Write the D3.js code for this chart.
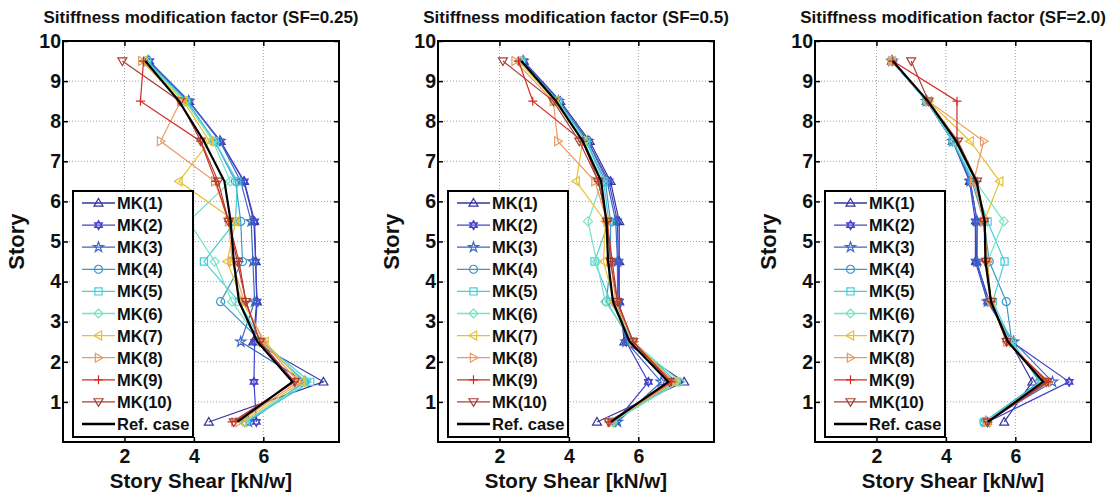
<!DOCTYPE html>
<html>
<head>
<meta charset="utf-8">
<script src="https://cdn.jsdelivr.net/npm/d3@7"></script>
<style>
  body { margin: 0; background: #fff; }
  svg { font-family: "Liberation Sans", Arial, sans-serif; }
</style>
</head>
<body>
<script>
(function () {
  'use strict';

  // story levels (mid-height of each story)
  const stories = [0.5, 1.5, 2.5, 3.5, 4.5, 5.5, 6.5, 7.5, 8.5, 9.5];
  const seriesNames = ["MK(1)", "MK(2)", "MK(3)", "MK(4)", "MK(5)", "MK(6)", "MK(7)", "MK(8)", "MK(9)", "MK(10)"];
  const titles = [
    "Sitiffness modification factor (SF=0.25)",
    "Sitiffness modification factor (SF=0.5)",
    "Sitiffness modification factor (SF=2.0)"
  ];
  const xTicks = [2, 4, 6];
  const yTicks = [1, 2, 3, 4, 5, 6, 7, 8, 9, 10];

  // SF = 0.25
  const ref025 = [5.25, 6.84, 5.83, 5.3, 5.15, 5.06, 4.88, 4.29, 3.57, 2.6];
  const mk025 = [
    [4.43, 7.73, 5.71, 5.81, 5.78, 5.73, 5.44, 4.77, 3.86, 2.7],
    [5.8, 5.73, 5.75, 5.82, 5.78, 5.75, 5.45, 4.75, 3.85, 2.72],
    [5.57, 7.2, 5.35, 5.75, 5.7, 5.65, 5.35, 4.75, 3.85, 2.68],
    [5.5, 7.2, 5.95, 4.77, 5.4, 5.35, 5.2, 4.6, 3.8, 2.65],
    [5.5, 7.35, 5.95, 5.3, 4.29, 5.2, 5.25, 4.6, 3.78, 2.65],
    [5.45, 7.25, 5.9, 5.1, 4.6, 3.85, 5.05, 4.55, 3.75, 2.6],
    [5.4, 7.1, 6.05, 5.4, 4.96, 5.2, 3.57, 4.45, 3.7, 2.55],
    [5.3, 7.0, 6.0, 5.45, 5.1, 5.0, 4.6, 3.04, 3.62, 2.5],
    [5.1, 6.9, 5.9, 5.5, 5.3, 5.0, 4.63, 4.19, 2.46, 2.55],
    [5.15, 6.9, 5.9, 5.5, 5.25, 5.0, 4.7, 4.2, 3.6, 1.94]
  ];

  // SF = 0.5
  const ref05 = [5.22, 6.86, 5.75, 5.27, 5.13, 5.08, 4.93, 4.4, 3.63, 2.63];
  const mk05 = [
    [4.81, 7.32, 5.6, 5.45, 5.45, 5.45, 5.2, 4.6, 3.75, 2.7],
    [5.35, 6.29, 5.65, 5.45, 5.42, 5.4, 5.15, 4.55, 3.7, 2.68],
    [5.4, 6.66, 5.65, 5.4, 5.4, 5.35, 5.1, 4.55, 3.7, 2.68],
    [5.3, 7.0, 5.8, 5.08, 5.2, 5.2, 5.05, 4.5, 3.7, 2.65],
    [5.25, 7.1, 5.85, 5.2, 4.74, 5.15, 5.0, 4.5, 3.68, 2.62],
    [5.25, 7.2, 5.85, 5.05, 4.8, 4.55, 4.95, 4.45, 3.65, 2.6],
    [5.2, 7.05, 5.85, 5.3, 5.0, 5.05, 4.21, 4.4, 3.6, 2.55],
    [5.2, 7.0, 5.85, 5.35, 5.2, 5.1, 4.75, 3.68, 3.55, 2.45],
    [5.15, 6.95, 5.85, 5.4, 5.25, 5.1, 4.85, 4.4, 2.96, 2.55],
    [5.15, 6.9, 5.85, 5.4, 5.2, 5.1, 4.85, 4.3, 3.55, 2.1]
  ];

  // SF = 2.0
  const ref20 = [5.21, 6.8, 5.79, 5.3, 5.14, 5.12, 4.88, 4.3, 3.48, 2.47];
  const mk20 = [
    [5.68, 6.49, 5.85, 5.25, 4.88, 4.9, 4.7, 4.2, 3.45, 2.45],
    [5.2, 7.55, 5.9, 5.2, 4.85, 4.85, 4.68, 4.2, 3.45, 2.45],
    [5.15, 7.07, 5.95, 5.2, 4.9, 4.9, 4.7, 4.2, 3.45, 2.45],
    [5.1, 6.7, 5.9, 5.74, 5.25, 5.1, 4.75, 4.2, 3.45, 2.45],
    [5.1, 6.75, 5.9, 5.35, 5.69, 5.2, 4.8, 4.2, 3.45, 2.45],
    [5.15, 6.8, 5.85, 5.3, 5.2, 5.67, 4.85, 4.25, 3.45, 2.45],
    [5.2, 6.9, 5.8, 5.3, 5.15, 5.1, 5.55, 4.7, 3.5, 2.45],
    [5.2, 6.95, 5.75, 5.3, 5.2, 5.1, 4.8, 5.09, 3.5, 2.45],
    [5.2, 6.95, 5.75, 5.3, 5.15, 5.1, 4.9, 4.32, 4.32, 2.47],
    [5.2, 6.9, 5.75, 5.3, 5.15, 5.1, 4.9, 4.35, 3.5, 3.0]
  ];

  const panels = [
    {title: titles[0], ref: ref025, mk: mk025, left: 63},
    {title: titles[1], ref: ref05, mk: mk05, left: 438},
    {title: titles[2], ref: ref20, mk: mk20, left: 815}
  ];

  const colors = ["#34349e", "#4242cc", "#3a68c4", "#3e98c8", "#45cedc", "#78e2c4",
                  "#e6c232", "#ea9a62", "#d22c24", "#ab3f34"];
  const markers = ["triUp", "hex", "star", "circle", "square", "diamond", "triLeft", "triRight", "plus", "triDown"];

  const W = 1115, H = 494;
  const top = 41, plotW = 276, plotH = 401;

  const svg = d3.select("body").append("svg")
    .attr("width", W).attr("height", H);

  function markerPath(type, r) {
    const t = 0.7;
    switch (type) {
      case "triUp": return `M0,${-r}L${r},${r * t}L${-r},${r * t}Z`;
      case "triDown": return `M0,${r}L${r},${-r * t}L${-r},${-r * t}Z`;
      case "triLeft": return `M${-r},0L${r * t},${-r}L${r * t},${r}Z`;
      case "triRight": return `M${r},0L${-r * t},${-r}L${-r * t},${r}Z`;
      case "hex": {
        const a = r * 0.866, b = r * 0.5;
        return `M0,${-r}L${a},${b}L${-a},${b}Z M0,${r}L${a},${-b}L${-a},${-b}Z`;
      }
      case "star": return d3.symbol(d3.symbolStar, r * r * 1.6)();
      case "circle": return d3.symbol(d3.symbolCircle, Math.PI * r * r * 0.8)();
      case "square": { const s = r * 0.8; return `M${-s},${-s}H${s}V${s}H${-s}Z`; }
      case "diamond": return `M0,${-r}L${r},0L0,${r}L${-r},0Z`;
      case "plus": return `M${-r},0H${r}M0,${-r}V${r}`;
    }
  }

  panels.forEach(function (p) {
    const g = svg.append("g").attr("transform", `translate(${p.left},${top})`);

    const x = d3.scaleLinear().domain([0.23, 8.18]).range([0, plotW]);
    const y = d3.scaleLinear().domain([0, 10]).range([plotH, 0]);

    // grid
    g.append("g").selectAll("line.gx").data(xTicks).enter().append("line")
      .attr("x1", d => x(d)).attr("x2", d => x(d))
      .attr("y1", 0).attr("y2", plotH)
      .attr("stroke", "#a0a0a0").attr("stroke-width", 1).attr("stroke-dasharray", "1,2");
    g.append("g").selectAll("line.gy").data(yTicks.filter(d => d < 10)).enter().append("line")
      .attr("x1", 0).attr("x2", plotW)
      .attr("y1", d => y(d)).attr("y2", d => y(d))
      .attr("stroke", "#a0a0a0").attr("stroke-width", 1).attr("stroke-dasharray", "1,2");

    // axes (ticks pointing inward)
    const axL = g.append("g").call(d3.axisLeft(y).tickValues(yTicks).tickSizeInner(-5).tickSizeOuter(0).tickPadding(2));
    const axB = g.append("g").attr("transform", `translate(0,${plotH})`)
      .call(d3.axisBottom(x).tickValues(xTicks).tickSizeInner(-5).tickSizeOuter(0).tickPadding(7));
    g.append("g").attr("transform", `translate(${plotW},0)`)
      .call(d3.axisRight(y).tickValues(yTicks).tickSizeInner(-5).tickSizeOuter(0).tickFormat(""));
    g.append("g")
      .call(d3.axisTop(x).tickValues(xTicks).tickSizeInner(-5).tickSizeOuter(0).tickFormat(""));
    g.selectAll(".domain").remove();
    g.selectAll(".tick line").attr("stroke", "#000").attr("stroke-width", 1.5);
    [axL, axB].forEach(a => a.selectAll("text")
      .attr("font-size", 19.5).attr("font-weight", "bold").attr("fill", "#111")
      .attr("font-family", "Liberation Sans, Arial, sans-serif"));

    // series
    const line = d3.line().x(d => x(d[0])).y(d => y(d[1]));
    p.mk.forEach(function (vals, i) {
      const pts = vals.map((v, k) => [v, stories[k]]);
      g.append("path").datum(pts)
        .attr("d", line).attr("fill", "none")
        .attr("stroke", colors[i]).attr("stroke-width", 1.2);
      g.append("g").selectAll("path").data(pts).enter().append("path")
        .attr("transform", d => `translate(${x(d[0])},${y(d[1])})`)
        .attr("d", markerPath(markers[i], 4.5))
        .attr("fill", "none").attr("stroke", colors[i]).attr("stroke-width", 1.2);
    });
    g.append("path").datum(p.ref.map((v, k) => [v, stories[k]]))
      .attr("d", line).attr("fill", "none")
      .attr("stroke", "#000").attr("stroke-width", 2.2);

    // frame
    g.append("rect").attr("width", plotW).attr("height", plotH)
      .attr("fill", "none").attr("stroke", "#000").attr("stroke-width", 2);

    // legend
    const lg = g.append("g").attr("transform", `translate(10,${plotH - 251})`);
    lg.append("rect").attr("width", 120).attr("height", 246)
      .attr("fill", "#fff").attr("stroke", "#000").attr("stroke-width", 2);
    const items = seriesNames.map((n, i) => ({name: n, color: colors[i], marker: markers[i]}))
      .concat([{name: "Ref. case", color: "#000", marker: null}]);
    items.forEach(function (it, i) {
      const yy = 12 + i * 22.1;
      lg.append("line").attr("x1", 9).attr("x2", 42).attr("y1", yy).attr("y2", yy)
        .attr("stroke", it.color).attr("stroke-width", it.marker ? 1.3 : 2.6);
      if (it.marker) {
        lg.append("path").attr("transform", `translate(25.5,${yy})`)
          .attr("d", markerPath(it.marker, 4.5))
          .attr("fill", "none").attr("stroke", it.color).attr("stroke-width", 1.2);
      }
      lg.append("text").attr("x", 44).attr("y", yy + 6)
        .attr("font-size", 16.5).attr("font-weight", "bold").attr("fill", "#111")
        .text(it.name);
    });

    // titles & labels
    g.append("text").attr("x", plotW / 2).attr("y", -18)
      .attr("text-anchor", "middle").attr("font-size", 17).attr("font-weight", "bold")
      .attr("fill", "#111").text(p.title);
    g.append("text").attr("x", plotW / 2).attr("y", plotH + 46)
      .attr("text-anchor", "middle").attr("font-size", 20.5).attr("font-weight", "bold")
      .attr("fill", "#111").text("Story Shear [kN/w]");
    g.append("text").attr("transform", `translate(-39,${plotH / 2}) rotate(-90)`)
      .attr("text-anchor", "middle").attr("font-size", 22).attr("font-weight", "bold")
      .attr("fill", "#111").text("Story");
  });
})();
</script>
</body>
</html>
